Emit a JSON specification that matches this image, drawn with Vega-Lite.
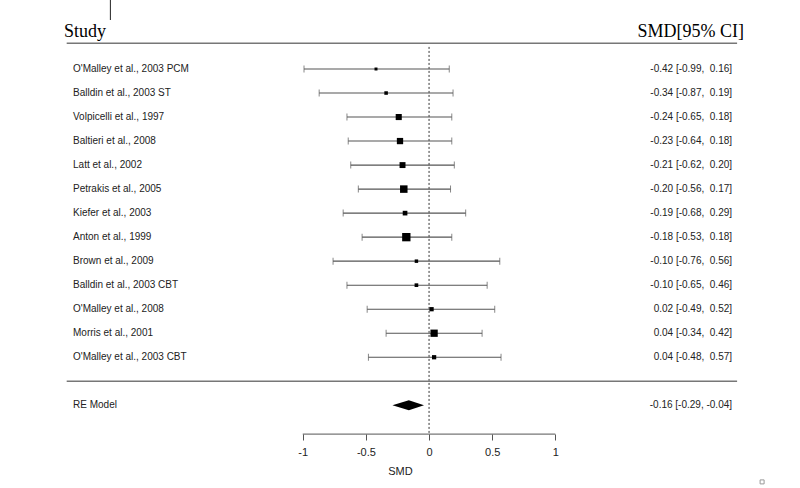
{
  "$schema": "https://vega.github.io/schema/vega-lite/v6.json",
  "width": 800,
  "height": 488,
  "autosize": {"type": "none"},
  "padding": 0,
  "background": "white",
  "config": {"view": {"stroke": null}},
  "datasets": {
    "studies": [
      {"study": "O'Malley et al., 2003 PCM", "row": 1, "est": -0.42, "lo": -0.99, "hi": 0.16, "weight": 4.2, "ci": "-0.42 [-0.99,\u00a0 0.16]"},
      {"study": "Balldin et al., 2003 ST", "row": 2, "est": -0.34, "lo": -0.87, "hi": 0.19, "weight": 5.0, "ci": "-0.34 [-0.87,\u00a0 0.19]"},
      {"study": "Volpicelli et al., 1997", "row": 3, "est": -0.24, "lo": -0.65, "hi": 0.18, "weight": 8.6, "ci": "-0.24 [-0.65,\u00a0 0.18]"},
      {"study": "Baltieri et al., 2008", "row": 4, "est": -0.23, "lo": -0.64, "hi": 0.18, "weight": 8.9, "ci": "-0.23 [-0.64,\u00a0 0.18]"},
      {"study": "Latt et al., 2002", "row": 5, "est": -0.21, "lo": -0.62, "hi": 0.20, "weight": 8.4, "ci": "-0.21 [-0.62,\u00a0 0.20]"},
      {"study": "Petrakis et al., 2005", "row": 6, "est": -0.20, "lo": -0.56, "hi": 0.17, "weight": 10.6, "ci": "-0.20 [-0.56,\u00a0 0.17]"},
      {"study": "Kiefer et al., 2003", "row": 7, "est": -0.19, "lo": -0.68, "hi": 0.29, "weight": 6.6, "ci": "-0.19 [-0.68,\u00a0 0.29]"},
      {"study": "Anton et al., 1999", "row": 8, "est": -0.18, "lo": -0.53, "hi": 0.18, "weight": 11.8, "ci": "-0.18 [-0.53,\u00a0 0.18]"},
      {"study": "Brown et al., 2009", "row": 9, "est": -0.10, "lo": -0.76, "hi": 0.56, "weight": 4.9, "ci": "-0.10 [-0.76,\u00a0 0.56]"},
      {"study": "Balldin et al., 2003 CBT", "row": 10, "est": -0.10, "lo": -0.65, "hi": 0.46, "weight": 5.2, "ci": "-0.10 [-0.65,\u00a0 0.46]"},
      {"study": "O'Malley et al., 2008", "row": 11, "est": 0.02, "lo": -0.49, "hi": 0.52, "weight": 6.0, "ci": "0.02 [-0.49,\u00a0 0.52]"},
      {"study": "Morris et al., 2001", "row": 12, "est": 0.04, "lo": -0.34, "hi": 0.42, "weight": 10.3, "ci": "0.04 [-0.34,\u00a0 0.42]"},
      {"study": "O'Malley et al., 2003 CBT", "row": 13, "est": 0.04, "lo": -0.48, "hi": 0.57, "weight": 6.0, "ci": "0.04 [-0.48,\u00a0 0.57]"}
    ],
    "pooled": [
      {"study": "RE Model", "row": 15, "est": -0.16, "lo": -0.29, "hi": -0.04, "ci": "-0.16 [-0.29, -0.04]"}
    ],
    "diamond": [
      {"x": -0.29, "top": 15, "bottom": 15},
      {"x": -0.16, "top": 14.79, "bottom": 15.21},
      {"x": -0.04, "top": 15, "bottom": 15}
    ]
  },
  "layer": [
    {
      "data": {"values": [{}]},
      "mark": {"type": "rule", "color": "#333", "strokeWidth": 1, "strokeDash": [2, 2]},
      "encoding": {
        "x": {"datum": 0, "type": "quantitative", "scale": {"domain": [-3.397, 2.937], "nice": false, "zero": false}},
        "y": {"datum": 0.08, "type": "quantitative", "scale": {"domain": [-1.873, 18.444], "nice": false, "zero": false, "reverse": true}, "axis": null},
        "y2": {"datum": 16.2}
      }
    },
    {
      "data": {"name": "studies"},
      "mark": {"type": "rule", "color": "#555", "strokeWidth": 1.1},
      "encoding": {
        "x": {"field": "lo", "type": "quantitative", "scale": {"domain": [-3.397, 2.937], "nice": false, "zero": false}},
        "x2": {"field": "hi"},
        "y": {"field": "row", "type": "quantitative", "scale": {"domain": [-1.873, 18.444], "nice": false, "zero": false, "reverse": true}, "axis": null}
      }
    },
    {
      "data": {"name": "studies"},
      "mark": {"type": "tick", "orient": "vertical", "color": "#555", "size": 7, "thickness": 1},
      "encoding": {
        "x": {"field": "lo", "type": "quantitative", "scale": {"domain": [-3.397, 2.937], "nice": false, "zero": false}},
        "y": {"field": "row", "type": "quantitative", "scale": {"domain": [-1.873, 18.444], "nice": false, "zero": false, "reverse": true}, "axis": null}
      }
    },
    {
      "data": {"name": "studies"},
      "mark": {"type": "tick", "orient": "vertical", "color": "#555", "size": 7, "thickness": 1},
      "encoding": {
        "x": {"field": "hi", "type": "quantitative", "scale": {"domain": [-3.397, 2.937], "nice": false, "zero": false}},
        "y": {"field": "row", "type": "quantitative", "scale": {"domain": [-1.873, 18.444], "nice": false, "zero": false, "reverse": true}, "axis": null}
      }
    },
    {
      "data": {"name": "studies"},
      "mark": {"type": "point", "shape": "square", "filled": true, "color": "#000", "opacity": 1},
      "encoding": {
        "x": {
          "field": "est", "type": "quantitative",
          "scale": {"domain": [-3.397, 2.937], "nice": false, "zero": false},
          "axis": {
            "values": [-1, -0.5, 0, 0.5, 1],
            "orient": "bottom",
            "offset": -54,
            "domain": false,
            "grid": false,
            "ticks": true,
            "tickSize": 6,
            "tickColor": "#555",
            "labelFont": "Liberation Sans",
            "labelFontSize": 11,
            "labelColor": "#222",
            "labelPadding": 6,
            "labelFlush": false,
            "labelExpr": "(datum.value < 0 ? '-' : '') + abs(datum.value)",
            "title": "SMD",
            "titleFont": "Liberation Sans",
            "titleFontSize": 11,
            "titleFontWeight": "normal",
            "titleColor": "#222",
            "titlePadding": 8
          }
        },
        "y": {"field": "row", "type": "quantitative", "scale": {"domain": [-1.873, 18.444], "nice": false, "zero": false, "reverse": true}, "axis": null},
        "size": {"field": "weight", "type": "quantitative", "scale": {"type": "pow", "exponent": 2, "domain": [0, 12], "range": [0, 72]}, "legend": null}
      }
    },
    {
      "data": {"name": "diamond"},
      "mark": {"type": "area", "orient": "vertical", "color": "#000"},
      "encoding": {
        "x": {"field": "x", "type": "quantitative", "scale": {"domain": [-3.397, 2.937], "nice": false, "zero": false}},
        "y": {"field": "top", "type": "quantitative", "scale": {"domain": [-1.873, 18.444], "nice": false, "zero": false, "reverse": true}, "axis": null},
        "y2": {"field": "bottom"}
      }
    },
    {
      "data": {"name": "studies"},
      "mark": {"type": "text", "align": "left", "baseline": "middle", "font": "Liberation Sans", "fontSize": 10, "color": "#222"},
      "encoding": {
        "x": {"datum": -2.819, "type": "quantitative", "scale": {"domain": [-3.397, 2.937], "nice": false, "zero": false}},
        "y": {"field": "row", "type": "quantitative", "scale": {"domain": [-1.873, 18.444], "nice": false, "zero": false, "reverse": true}, "axis": null},
        "text": {"field": "study"}
      }
    },
    {
      "data": {"name": "pooled"},
      "mark": {"type": "text", "align": "left", "baseline": "middle", "font": "Liberation Sans", "fontSize": 10, "color": "#222"},
      "encoding": {
        "x": {"datum": -2.819, "type": "quantitative", "scale": {"domain": [-3.397, 2.937], "nice": false, "zero": false}},
        "y": {"field": "row", "type": "quantitative", "scale": {"domain": [-1.873, 18.444], "nice": false, "zero": false, "reverse": true}, "axis": null},
        "text": {"field": "study"}
      }
    },
    {
      "data": {"name": "studies"},
      "mark": {"type": "text", "align": "right", "baseline": "middle", "font": "Liberation Sans", "fontSize": 10, "color": "#222"},
      "encoding": {
        "x": {"datum": 2.399, "type": "quantitative", "scale": {"domain": [-3.397, 2.937], "nice": false, "zero": false}},
        "y": {"field": "row", "type": "quantitative", "scale": {"domain": [-1.873, 18.444], "nice": false, "zero": false, "reverse": true}, "axis": null},
        "text": {"field": "ci"}
      }
    },
    {
      "data": {"name": "pooled"},
      "mark": {"type": "text", "align": "right", "baseline": "middle", "font": "Liberation Sans", "fontSize": 10, "color": "#222"},
      "encoding": {
        "x": {"datum": 2.399, "type": "quantitative", "scale": {"domain": [-3.397, 2.937], "nice": false, "zero": false}},
        "y": {"field": "row", "type": "quantitative", "scale": {"domain": [-1.873, 18.444], "nice": false, "zero": false, "reverse": true}, "axis": null},
        "text": {"field": "ci"}
      }
    },
    {
      "data": {"values": [{"label": "Study"}]},
      "mark": {"type": "text", "align": "left", "baseline": "alphabetic", "font": "Liberation Serif", "fontSize": 18, "color": "#000"},
      "encoding": {
        "x": {"datum": -2.890, "type": "quantitative", "scale": {"domain": [-3.397, 2.937], "nice": false, "zero": false}},
        "y": {"datum": -0.32, "type": "quantitative", "scale": {"domain": [-1.873, 18.444], "nice": false, "zero": false, "reverse": true}, "axis": null},
        "text": {"field": "label"}
      }
    },
    {
      "data": {"values": [{"label": "SMD[95% CI]"}]},
      "mark": {"type": "text", "align": "right", "baseline": "alphabetic", "font": "Liberation Serif", "fontSize": 18, "color": "#000"},
      "encoding": {
        "x": {"datum": 2.494, "type": "quantitative", "scale": {"domain": [-3.397, 2.937], "nice": false, "zero": false}},
        "y": {"datum": -0.32, "type": "quantitative", "scale": {"domain": [-1.873, 18.444], "nice": false, "zero": false, "reverse": true}, "axis": null},
        "text": {"field": "label"}
      }
    },
    {
      "data": {"values": [{"y": -0.07}, {"y": 14}]},
      "mark": {"type": "rule", "color": "#777", "strokeWidth": 1.5},
      "encoding": {
        "x": {"datum": -2.869, "type": "quantitative", "scale": {"domain": [-3.397, 2.937], "nice": false, "zero": false}},
        "x2": {"datum": 2.439},
        "y": {"field": "y", "type": "quantitative", "scale": {"domain": [-1.873, 18.444], "nice": false, "zero": false, "reverse": true}, "axis": null}
      }
    },
    {
      "data": {"values": [{}]},
      "mark": {"type": "rule", "color": "#555", "strokeWidth": 1},
      "encoding": {
        "x": {"datum": -1, "type": "quantitative", "scale": {"domain": [-3.397, 2.937], "nice": false, "zero": false}},
        "x2": {"datum": 1},
        "y": {"datum": 16.2, "type": "quantitative", "scale": {"domain": [-1.873, 18.444], "nice": false, "zero": false, "reverse": true}, "axis": null}
      }
    },
    {
      "data": {"values": [{}]},
      "mark": {"type": "rule", "color": "#222", "strokeWidth": 1},
      "encoding": {
        "x": {"datum": -2.523, "type": "quantitative", "scale": {"domain": [-3.397, 2.937], "nice": false, "zero": false}},
        "y": {"datum": -1.873, "type": "quantitative", "scale": {"domain": [-1.873, 18.444], "nice": false, "zero": false, "reverse": true}, "axis": null},
        "y2": {"datum": -1.04}
      }
    },
    {
      "data": {"values": [{}]},
      "mark": {"type": "point", "shape": "square", "filled": false, "stroke": "#999", "strokeWidth": 1, "size": 16, "opacity": 1},
      "encoding": {
        "x": {"datum": 2.637, "type": "quantitative", "scale": {"domain": [-3.397, 2.937], "nice": false, "zero": false}},
        "y": {"datum": 18.19, "type": "quantitative", "scale": {"domain": [-1.873, 18.444], "nice": false, "zero": false, "reverse": true}, "axis": null}
      }
    }
  ]
}
